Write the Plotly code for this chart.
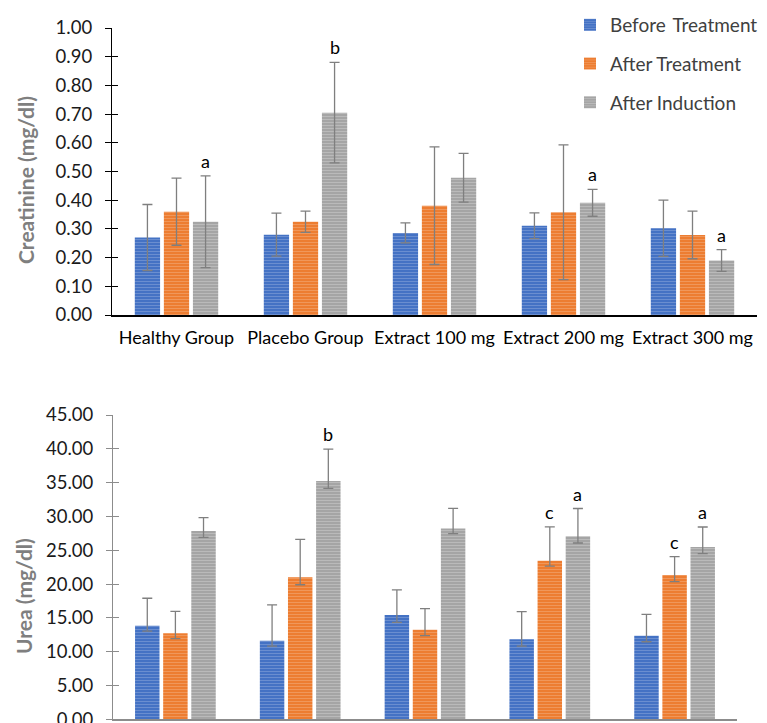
import plotly.graph_objects as go

categories = ["Healthy Group", "Placebo Group", "Extract 100 mg", "Extract 200 mg", "Extract 300 mg"]
series_names = ["Before\u2009 Treatment", "After Treatment", "After Induction"]
colors = ["#4472C4", "#ED7D31", "#A5A5A5"]
stripe = ["#8FAADC", "#F4B183", "#D0D0D0"]

# Creatinine (mg/dl)
creat_before = [0.27, 0.28, 0.286, 0.311, 0.302]
creat_after_treat = [0.36, 0.325, 0.381, 0.358, 0.279]
creat_after_ind = [0.325, 0.705, 0.478, 0.391, 0.19]
creat_err_before = [0.115, 0.075, 0.035, 0.045, 0.098]
creat_err_after_treat = [0.117, 0.037, 0.205, 0.235, 0.083]
creat_err_after_ind = [0.16, 0.175, 0.085, 0.047, 0.038]
creat_letters_before = ["", "", "", "", ""]
creat_letters_after_treat = ["", "", "", "", ""]
creat_letters_after_ind = ["a", "b", "", "a", "a"]

# Urea (mg/dl)
urea_before = [13.85, 11.63, 15.43, 11.83, 12.37]
urea_after_treat = [12.72, 21.0, 13.26, 23.46, 21.35]
urea_after_ind = [27.86, 35.25, 28.2, 27.07, 25.49]
urea_errp_before = [4.05, 5.3, 3.7, 4.1, 3.15]
urea_errp_after_treat = [3.25, 5.6, 3.1, 5.0, 2.7]
urea_errp_after_ind = [1.95, 4.7, 3.0, 4.1, 2.95]
urea_errm_before = [0.8, 0.8, 1.1, 1.0, 0.9]
urea_errm_after_treat = [0.8, 1.1, 0.9, 0.8, 1.0]
urea_errm_after_ind = [0.95, 1.1, 0.75, 1.0, 1.0]
urea_letters_before = ["", "", "", "", ""]
urea_letters_after_treat = ["", "", "", "c", "c"]
urea_letters_after_ind = ["", "b", "", "a", "a"]

PAGE_W, PAGE_H = 767, 723
OFF = 8  # default body margin of the html page
W, H = PAGE_W - OFF, PAGE_H - OFF
BARGAP = 0.324
BARGROUPGAP = 0.13
FONT = "Lato"

fig = go.Figure()

creat_vals = [creat_before, creat_after_treat, creat_after_ind]
creat_errs = [creat_err_before, creat_err_after_treat, creat_err_after_ind]
creat_lets = [creat_letters_before, creat_letters_after_treat, creat_letters_after_ind]
urea_vals = [urea_before, urea_after_treat, urea_after_ind]
urea_errp = [urea_errp_before, urea_errp_after_treat, urea_errp_after_ind]
urea_errm = [urea_errm_before, urea_errm_after_treat, urea_errm_after_ind]
urea_lets = [urea_letters_before, urea_letters_after_treat, urea_letters_after_ind]

for i in range(3):
    pat = dict(shape="-", bgcolor=colors[i], fgcolor=stripe[i], size=3, solidity=0.35)
    fig.add_trace(go.Bar(
        x=categories, y=creat_vals[i], name=series_names[i],
        marker=dict(color=colors[i], pattern=pat, line=dict(width=0)),
        error_y=dict(type="data", array=creat_errs[i], color="#7F7F7F", thickness=1.3, width=5),
        xaxis="x", yaxis="y", legendgroup=f"g{i}", showlegend=True,
    ))
for i in range(3):
    pat = dict(shape="-", bgcolor=colors[i], fgcolor=stripe[i], size=3, solidity=0.35)
    fig.add_trace(go.Bar(
        x=categories, y=urea_vals[i], name=series_names[i],
        marker=dict(color=colors[i], pattern=pat, line=dict(width=0)),
        error_y=dict(type="data", symmetric=False, array=urea_errp[i], arrayminus=urea_errm[i],
                     color="#7F7F7F", thickness=1.3, width=5),
        xaxis="x2", yaxis="y2", legendgroup=f"g{i}", showlegend=False,
    ))

# invisible helper traces so the overlay axes (inner half of the crossing ticks) get drawn
fig.add_trace(go.Scatter(x=categories, y=creat_before, mode="none", xaxis="x", yaxis="y3",
                         showlegend=False, hoverinfo="skip"))
fig.add_trace(go.Scatter(x=categories, y=urea_before, mode="none", xaxis="x2", yaxis="y4",
                         showlegend=False, hoverinfo="skip"))

# significance letters
slot = (1 - BARGAP) / 3
annotations = []
for i in range(3):
    off = (i - 1) * slot
    for j, cat in enumerate(categories):
        if creat_lets[i][j]:
            annotations.append(dict(x=j + off, y=creat_vals[i][j] + creat_errs[i][j], xref="x", yref="y",
                                    text=creat_lets[i][j], showarrow=False, yanchor="bottom", yshift=2,
                                    font=dict(family=FONT, size=18, color="#000000")))
        if urea_lets[i][j]:
            annotations.append(dict(x=j + off, y=urea_vals[i][j] + urea_errp[i][j], xref="x2", yref="y2",
                                    text=urea_lets[i][j], showarrow=False, yanchor="bottom", yshift=2,
                                    font=dict(family=FONT, size=18, color="#000000")))

def xdom(left_px, right_px):
    return [(left_px - OFF) / W, (right_px - OFF) / W]

def ydom(top_px, bot_px):
    return [1 - (bot_px - OFF) / H, 1 - (top_px - OFF) / H]

def px_x(px):
    return (px - OFF) / W

def px_y(py):
    return 1 - (py - OFF) / H

# axis titles (placed as rotated text, as in the reference they sit off-centre)
title_font = dict(family=FONT, size=21, color="#7F7F7F")
annotations.append(dict(text="<b>Creatinine (mg/dl)</b>", x=px_x(25), y=px_y(180), xref="paper", yref="paper",
                        textangle=-90, showarrow=False, xanchor="center", yanchor="middle", font=title_font))
annotations.append(dict(text="<b>Urea (mg/dl)</b>", x=px_x(23), y=px_y(596), xref="paper", yref="paper",
                        textangle=-90, showarrow=False, xanchor="center", yanchor="middle", font=title_font))

tickfont = dict(family=FONT, size=18.5, color="#1a1a1a")

fig.update_layout(
    width=W, height=H, autosize=False,
    margin=dict(l=0, r=0, t=0, b=0, autoexpand=False),
    paper_bgcolor="white", plot_bgcolor="white",
    barmode="group", bargap=BARGAP, bargroupgap=BARGROUPGAP,
    font=dict(family=FONT),
    annotations=annotations,
    legend=dict(x=(570 - OFF) / W, y=1 + 2 / H, xanchor="left", yanchor="top",
                font=dict(family=FONT, size=19, color="#404040"),
                tracegroupgap=11, bgcolor="rgba(0,0,0,0)"),
    xaxis=dict(domain=xdom(112, 757), anchor="y", showline=True, linecolor="#000000", linewidth=2,
               ticks="", tickfont=dict(family=FONT, size=18, color="#000000"),
               ticklabelstandoff=5, range=[-0.5, 4.5]),
    yaxis=dict(domain=ydom(28, 315), anchor="x", range=[0, 1], dtick=0.1, tickformat=".2f",
               showline=True, linecolor="#000000", linewidth=1.3, ticks="outside", ticklen=6,
               tickcolor="#000000", tickwidth=1.3, showgrid=False, zeroline=False,
               tickfont=tickfont, ticklabelstandoff=9),
    yaxis3=dict(overlaying="y", anchor="x", range=[0, 1], dtick=0.1, ticks="inside", ticklen=6,
                tickcolor="#000000", tickwidth=1.3, showticklabels=False, showgrid=False,
                zeroline=False, showline=False),
    xaxis2=dict(domain=xdom(113, 737), anchor="y2", showline=True, linecolor="#8C8C8C", linewidth=2,
                ticks="", showticklabels=False, range=[-0.5, 4.5]),
    yaxis2=dict(domain=ydom(415, 719.3), anchor="x2", range=[0, 45], dtick=5, tickformat=".2f",
                showline=True, linecolor="#8C8C8C", linewidth=1, ticks="outside", ticklen=6,
                tickcolor="#8C8C8C", tickwidth=1, showgrid=False, zeroline=False,
                tickfont=tickfont, ticklabelstandoff=9, ticklabeloverflow="allow"),
    yaxis4=dict(overlaying="y2", anchor="x2", range=[0, 45], dtick=5, ticks="inside", ticklen=6,
                tickcolor="#8C8C8C", tickwidth=1, showticklabels=False, showgrid=False,
                zeroline=False, showline=False),
)

fig.write_html("out.html")
